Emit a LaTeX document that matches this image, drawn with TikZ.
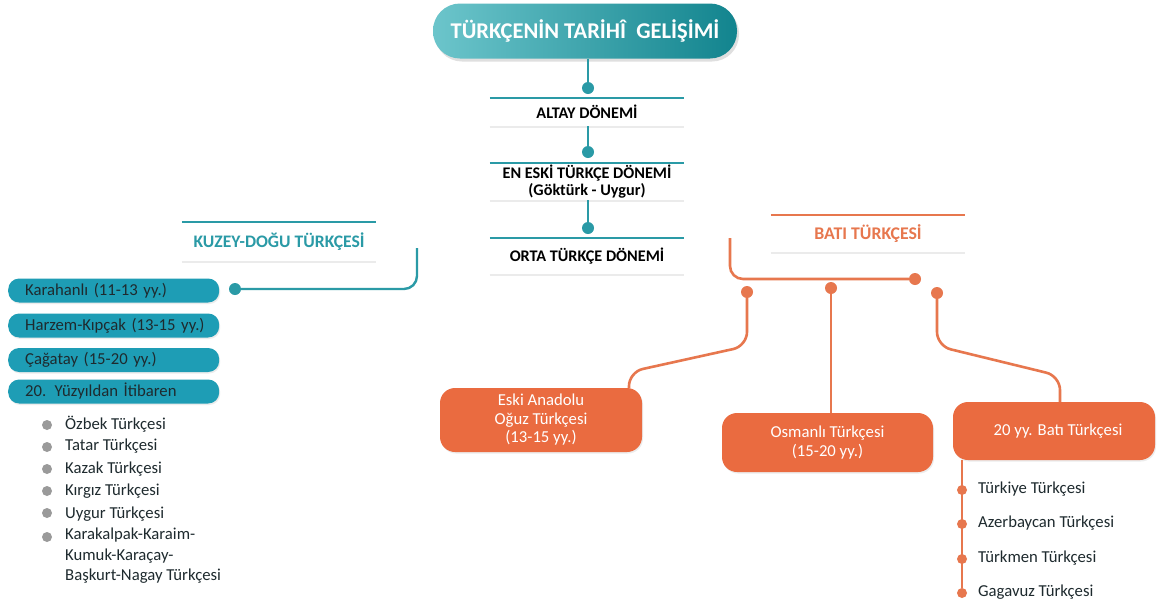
\documentclass[tikz,border=0pt]{standalone}
\usepackage{fontspec}
\setmainfont{Carlito}
\usetikzlibrary{shadows,calc}
\definecolor{tealA}{HTML}{1E9DB5}
\definecolor{tealL}{HTML}{2A9AA6}
\definecolor{tealT1}{HTML}{6CC5CB}
\definecolor{tealT2}{HTML}{12848E}
\definecolor{orA}{HTML}{EA6B40}
\definecolor{orL}{HTML}{E7774E}
\definecolor{grayD}{HTML}{9A9A9A}
\definecolor{txt}{HTML}{1E2A2E}
\begin{document}
\begin{tikzpicture}[x=1pt,y=-1pt,
  tline/.style={draw=tealL,line width=2.4pt},
  oline/.style={draw=orL,line width=2.6pt},
  faint/.style={draw=black!8,line width=2pt},
  tdot/.style={circle,fill=tealL,inner sep=0,minimum size=12},
  odot/.style={circle,fill=orL,inner sep=0,minimum size=12},
  gdot/.style={circle,fill=grayD,inner sep=0,minimum size=10},
  ldot/.style={circle,fill=orL,inner sep=0,minimum size=10},
  card/.style={minimum width=194,inner sep=0,align=center,font=\fontsize{16.2}{17}\selectfont\bfseries},
  pill/.style={fill=tealA,rounded corners=11,anchor=west,inner xsep=8.5,inner ysep=0,text width=194,minimum height=24,align=left,font=\fontsize{16.7}{16}\selectfont,text=txt,drop shadow={opacity=0.15,shadow xshift=1pt,shadow yshift=-1.5pt}},
  obox/.style={fill=orA,rounded corners=15,inner sep=0,text=white,align=center,font=\fontsize{16.7}{18.5}\selectfont,drop shadow={opacity=0.15,shadow xshift=1pt,shadow yshift=-1.5pt}},
  item/.style={inner sep=0,anchor=west,text=txt,font=\fontsize{16.7}{20.5}\selectfont}
]
\useasboundingbox (0,0) rectangle (1157,611);
\fill[white] (0,0) rectangle (1157,611);

% title
\node[minimum width=304,minimum height=55,rounded corners=27,left color=tealT1,right color=tealT2,text=white,
  font=\fontsize{22.5}{24}\selectfont\bfseries,drop shadow={opacity=0.25,shadow xshift=2pt,shadow yshift=-3pt}] (title) at (585,31) {TÜRKÇENİN TARİHÎ\ \ GELİŞİMİ};

% central chain
\node[tdot] (td1) at (588,88) {};
\node[card,minimum height=28] (altay) at (587,112) {ALTAY DÖNEMİ};
\node[tdot] (td2) at (588,152) {};
\node[card,minimum height=37] (eneski) at (587,181.5) {EN ESKİ TÜRKÇE DÖNEMİ\\(Göktürk - Uygur)};
\node[tdot] (td3) at (588,228) {};
\node[card,minimum height=36] (orta) at (587,256) {ORTA TÜRKÇE DÖNEMİ};
\foreach \n in {altay,eneski,orta}{
  \draw[tline] (\n.north west) -- (\n.north east);
  \draw[faint] ([yshift=-1pt]\n.south west) -- ([yshift=-1pt]\n.south east);
}
\draw[tline] (title.south -| td1) -- (td1);
\draw[tline] (altay.south -| td2) -- (td2);
\draw[tline] (eneski.south -| td3) -- (td3);

% left branch
\node[card,minimum height=40,text=tealL,font=\fontsize{17.6}{19}\selectfont\bfseries] (kuzey) at (279,242) {KUZEY-DOĞU TÜRKÇESİ};
\draw[tline] (kuzey.north west) -- (kuzey.north east);
\draw[faint] (kuzey.south west) -- (kuzey.south east);
\coordinate (kzs) at (417,248);
\node[tdot] (kdot) at (235,289) {};
\draw[tline,rounded corners=13] (kzs) |- (kdot);

\node[pill] (p1) at (8,290.5) {\hspace*{8.5pt}\mbox{Karahanlı (11-13 yy.)}};
\node[pill] (p2) at (8,325.5) {\hspace*{8.5pt}\mbox{Harzem-Kıpçak (13-15 yy.)}};
\node[pill] (p3) at (8,360) {\hspace*{8.5pt}\mbox{Çağatay (15-20 yy.)}};
\node[pill] (p4) at (8,391.5) {\hspace*{8.5pt}\mbox{20. Yüzyıldan İtibaren}};

\node[gdot] (b1) at (47,425) {};
\node[gdot] (b2) at (47,447) {};
\node[gdot] (b3) at (47,469) {};
\node[gdot] (b4) at (47,491) {};
\node[gdot] (b5) at (47,513) {};
\node[gdot] (b6) at (47,537) {};
\node[item] (t1) at (65,424) {Özbek Türkçesi};
\node[item] (t2) at (65,446) {Tatar Türkçesi};
\node[item] (t3) at (65,469) {Kazak Türkçesi};
\node[item] (t4) at (65,491) {Kırgız Türkçesi};
\node[item] (t5) at (65,514) {Uygur Türkçesi};
\node[item,anchor=north west,align=left] (t6) at (65,528) {Karakalpak-Karaim-\\Kumuk-Karaçay-\\Başkurt-Nagay Türkçesi};

% right branch
\node[card,minimum height=38,text=orL,font=\fontsize{17.8}{19}\selectfont\bfseries] (bati) at (868,234) {BATI TÜRKÇESİ};
\draw[oline] (bati.north west) -- (bati.north east);
\draw[faint] (bati.south west) -- (bati.south east);
\coordinate (bts) at (730,238);
\node[odot] (od0) at (915,279) {};
\draw[oline,rounded corners=13] (bts) |- (od0);

\node[odot] (od1) at (747,292) {};
\node[odot] (od2) at (831,288) {};
\node[odot] (od3) at (937,293) {};

\node[obox,minimum width=202,minimum height=64] (eski) at (541,420) {Eski Anadolu\\Oğuz Türkçesi\\(13-15 yy.)};
\node[obox,minimum width=211,minimum height=59] (osm) at (827.5,442.5) {Osmanlı Türkçesi\\(15-20 yy.)};
\node[obox,minimum width=202,minimum height=58] (b20) at (1054,431) {\hspace*{8pt}20 yy. Batı Türkçesi};

\coordinate (e1) at (629,372);
\coordinate (e3) at (1060,376);
\draw[oline,rounded corners=14] (od1) -- (747,346) -- (e1) -- (eski.north -| e1);
\draw[oline] (od2) -- (osm.north -| od2);
\draw[oline,rounded corners=14] (od3) -- (937,346) -- (e3) -- (b20.north -| e3);

\node[ldot] (l1) at (962,490) {};
\node[ldot] (l2) at (962,524) {};
\node[ldot] (l3) at (962,559) {};
\node[ldot] (l4) at (962,593) {};
\draw[oline] (b20.south -| l4) -- (l4);
\node[item] (r1) at (978,489) {Türkiye Türkçesi};
\node[item] (r2) at (978,523) {Azerbaycan Türkçesi};
\node[item] (r3) at (978,558) {Türkmen Türkçesi};
\node[item] (r4) at (978,592) {Gagavuz Türkçesi};
\end{tikzpicture}
\end{document}
